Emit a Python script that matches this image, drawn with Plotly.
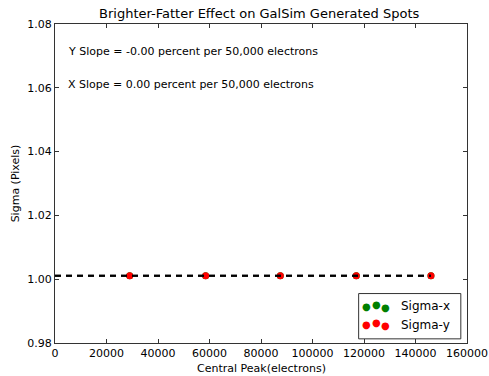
import numpy as np
import plotly.graph_objects as go

peak = [29000, 58500, 87500, 117000, 146000]
sigma_x = [1.0011, 1.0011, 1.0011, 1.0011, 1.0011]
sigma_y = [1.0011, 1.0011, 1.0011, 1.0011, 1.0011]
x_ticks = [0, 20000, 40000, 60000, 80000, 100000, 120000, 140000, 160000]
y_ticks = [0.98, 1.00, 1.02, 1.04, 1.06, 1.08]

FONT = "DejaVu Sans"
AX = "#333333"
fig = go.Figure()
fig.add_trace(go.Scatter(x=peak, y=sigma_x, mode="markers", name="Sigma-x",
                         marker=dict(color="green", size=7), showlegend=False))
fig.add_trace(go.Scatter(x=peak, y=sigma_y, mode="markers", name="Sigma-y",
                         marker=dict(color="red", size=7), showlegend=False))
for s in (sigma_x, sigma_y):
    m, b = np.polyfit(peak, s, 1)
    xs = [0, max(peak)]
    fig.add_trace(go.Scatter(x=xs, y=[b + m * v for v in xs], mode="lines",
                             line=dict(color="black", width=2, dash="6px,5px"),
                             showlegend=False))

ann = [
    dict(x=0.026, y=0.915, text="Y Slope = -0.00 percent per 50,000 electrons"),
    dict(x=0.026, y=0.81, text="X Slope = 0.00 percent per 50,000 electrons"),
]
annotations = [dict(xref="paper", yref="paper", xanchor="left", yanchor="middle",
                    showarrow=False, font=dict(size=11, color="black", family=FONT), **a)
               for a in ann]
# axis titles
annotations.append(dict(xref="paper", yref="paper", x=0.5, y=-0.08, yanchor="middle",
                        xanchor="center", showarrow=False, text="Central Peak(electrons)",
                        font=dict(size=11, color="black", family=FONT)))
annotations.append(dict(xref="paper", yref="paper", x=-0.095, y=0.5, yanchor="middle",
                        xanchor="center", showarrow=False, text="Sigma (Pixels)", textangle=-90,
                        font=dict(size=11, color="black", family=FONT)))
# manual legend
leg = [("Sigma-x", "green", 0.115), ("Sigma-y", "red", 0.057)]
for label, col, yy in leg:
    for dx, dy in [(0.0, 0.0), (0.024, 0.006), (0.046, -0.003)]:
        annotations.append(dict(xref="paper", yref="paper", x=0.756 + dx, y=yy + dy,
                                text="●", showarrow=False, xanchor="center", yanchor="middle",
                                font=dict(size=10, color=col, family=FONT)))
    annotations.append(dict(xref="paper", yref="paper", x=0.835, y=yy, text=label,
                            showarrow=False, xanchor="left", yanchor="middle",
                            font=dict(size=12, color="black", family=FONT)))

fig.update_layout(
    width=489, height=376,
    margin=dict(l=55, r=22, t=24, b=33),
    paper_bgcolor="white", plot_bgcolor="white",
    font=dict(family=FONT, size=11, color="black"),
    title=dict(text="Brighter-Fatter Effect on GalSim Generated Spots", x=0.53, xanchor="center",
               y=0.963, yanchor="middle", font=dict(size=13, family=FONT)),
    annotations=annotations,
    shapes=[dict(type="rect", xref="paper", yref="paper", x0=0.737, x1=0.985, y0=0.013, y1=0.155,
                 line=dict(color=AX, width=1), fillcolor="rgba(0,0,0,0)")],
    xaxis=dict(range=[0, 160000], tickvals=x_ticks, ticktext=[str(v) for v in x_ticks],
               ticks="inside", ticklen=4, tickcolor=AX, mirror="ticks", showline=True, linecolor=AX,
               linewidth=1, showgrid=False, zeroline=False, automargin=False),
    yaxis=dict(range=[0.98, 1.08], tickvals=y_ticks, ticktext=[f"{v:.2f}" for v in y_ticks],
               ticks="inside", ticklen=4, tickcolor=AX, mirror="ticks", showline=True, linecolor=AX,
               linewidth=1, showgrid=False, zeroline=False, automargin=False),
)
fig.write_html("out.html")
